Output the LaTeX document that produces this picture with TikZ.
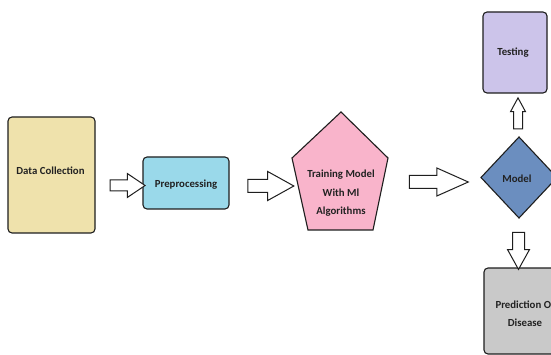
\documentclass[tikz,border=0pt]{standalone}
\usepackage{fontspec}
\setmainfont{Carlito}
\usetikzlibrary{shapes.arrows}
\definecolor{edge}{HTML}{1E1E1E}
\definecolor{txt}{HTML}{222222}
\definecolor{dcfill}{HTML}{EFE2AC}
\definecolor{ppfill}{HTML}{9AD9EA}
\definecolor{pkfill}{HTML}{F9B4CB}
\definecolor{mdfill}{HTML}{6B8EBF}
\definecolor{tsfill}{HTML}{CCC4EA}
\definecolor{prfill}{HTML}{C9C9C9}
\newcommand{\lblfont}{\fontsize{10.8}{18}\selectfont\bfseries}
\begin{document}
\begin{tikzpicture}[x=1pt,y=-1pt,
  box/.style={draw=edge, line width=1.1pt, rounded corners=4pt, inner sep=0pt},
  lbl/.style={font=\lblfont, text=txt, inner sep=0pt, align=center},
  barrow/.style={single arrow, draw=edge, fill=white, line width=1pt, single arrow head indent=0pt}]
\path[use as bounding box, fill=white] (0,0) rectangle (551,355);
\clip (0,0) rectangle (551,355);
% boxes
\node[box, fill=dcfill, minimum width=87pt, minimum height=116pt] (dc) at (51.5,175) {};
\node[lbl] (dct) at (50.5,171) {Data Collection};
\node[box, fill=ppfill, minimum width=86pt, minimum height=52pt] (pp) at (186,183) {};
\node[lbl] (ppt) at (186,185) {Preprocessing};
% pentagon
\coordinate (p1) at (341,112);
\coordinate (p2) at (388,158);
\coordinate (p3) at (373,230);
\coordinate (p4) at (308,230);
\coordinate (p5) at (292,158);
\draw[draw=edge, line width=1.1pt, fill=pkfill, line join=miter] (p1) -- (p2) -- (p3) -- (p4) -- (p5) -- cycle;
\node[lbl, font=\fontsize{10.8}{18.5}\selectfont\bfseries] (tm) at (341,193.5) {Training Model\\With Ml\\Algorithms};
% diamond
\coordinate (d1) at (519,137);
\coordinate (d2) at (557,177.5);
\coordinate (d3) at (519,218);
\coordinate (d4) at (481,177.5);
\draw[draw=edge, line width=1.1pt, fill=mdfill] (d1) -- (d2) -- (d3) -- (d4) -- cycle;
\node[lbl] (md) at (517,179) {Model};
% testing
\node[box, fill=tsfill, minimum width=64pt, minimum height=81pt] (ts) at (515,52.5) {};
\node[lbl] (tst) at (513,53) {Testing};
% prediction
\node[box, fill=prfill, minimum width=72pt, minimum height=86pt] (pr) at (520,311) {};
\node[lbl, font=\fontsize{10.8}{18}\selectfont\bfseries] (prt) at (525,314) {Prediction Of\\Disease};
% block arrows
\node[barrow, minimum height=35pt, inner sep=5pt, single arrow head extend=6.5pt, single arrow tip angle=68] (a1) at (123.5,185.5) {};
\node[barrow, minimum height=46pt, inner sep=6pt, single arrow head extend=8pt, single arrow tip angle=58] (a2) at (265,186) {};
\node[barrow, minimum height=59pt, inner sep=6pt, single arrow head extend=7.5pt, single arrow tip angle=48] (a3) at (431.5,182) {};
\node[barrow, rotate=90, minimum height=31pt, inner sep=4pt, single arrow head extend=3pt, single arrow tip angle=57] (au) at (518,117.5) {};
\node[barrow, rotate=-90, minimum height=37pt, inner sep=5.5pt, single arrow head extend=5pt, single arrow tip angle=58] (ad) at (518.5,245.5) {};
\end{tikzpicture}
\end{document}
